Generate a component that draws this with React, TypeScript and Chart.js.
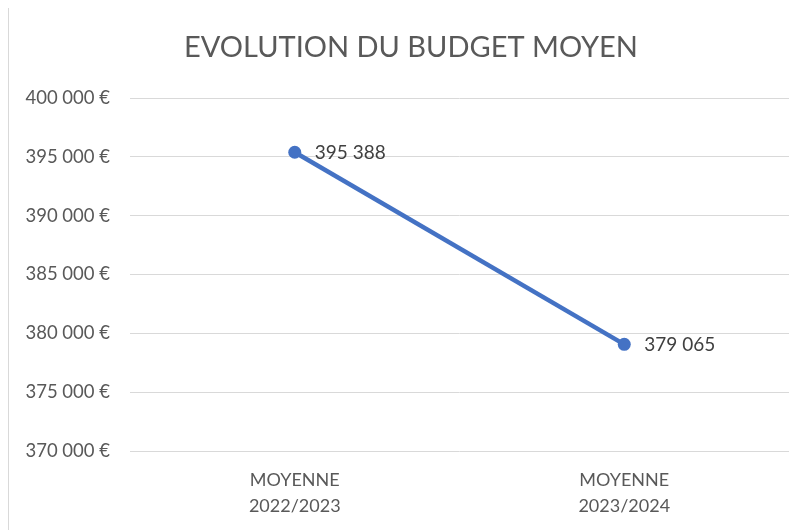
import React, { useEffect, useRef } from "react";
import { Chart, registerables } from "chart.js";

Chart.register(...registerables);

const TITLE = "EVOLUTION DU BUDGET MOYEN";
const categories: string[][] = [
  ["MOYENNE", "2022/2023"],
  ["MOYENNE", "2023/2024"],
];
const budgetValues: number[] = [395388, 379065];
const yMin = 370000;
const yMax = 400000;
const yStep = 5000;

const fmt = (v: number) => String(Math.round(v)).replace(/\B(?=(\d{3})+(?!\d))/g, " ");

const FONT = "Lato";

const titlePlugin = {
  id: "customTitle",
  afterDraw(chart: any) {
    const ctx = chart.ctx;
    ctx.save();
    ctx.font = `29px ${FONT}`;
    ctx.fillStyle = "#595959";
    ctx.textAlign = "center";
    ctx.textBaseline = "middle";
    ctx.fillText(TITLE, 402, 40);
    ctx.restore();
  },
};

const labelPlugin = {
  id: "pointLabels",
  afterDatasetsDraw(chart: any) {
    const ctx = chart.ctx;
    const meta = chart.getDatasetMeta(0);
    ctx.save();
    ctx.font = `19px ${FONT}`;
    ctx.fillStyle = "#404040";
    ctx.textAlign = "left";
    ctx.textBaseline = "middle";
    meta.data.forEach((pt: any, i: number) => {
      ctx.fillText(fmt(budgetValues[i]), pt.x + 20, pt.y + 1);
    });
    ctx.restore();
  },
};

export default function App() {
  const ref = useRef<HTMLCanvasElement | null>(null);
  useEffect(() => {
    if (!ref.current) return;
    const chart = new Chart(ref.current, {
      type: "line",
      data: {
        labels: categories as any,
        datasets: [
          {
            data: budgetValues,
            borderColor: "#4472C4",
            backgroundColor: "#4472C4",
            borderWidth: 4.5,
            pointRadius: 6.5,
            pointBackgroundColor: "#4472C4",
            pointBorderColor: "#4472C4",
            pointBorderWidth: 0,
          },
        ],
      },
      options: {
        animation: false,
        responsive: false,
        maintainAspectRatio: false,
        layout: { padding: { top: 90, right: 14, bottom: 0, left: 0 } },
        plugins: {
          legend: { display: false },
          title: { display: false },
          tooltip: { enabled: false },
        },
        scales: {
          x: {
            offset: true,
            grid: { display: false },
            border: { display: false },
            ticks: {
              color: "#595959",
              font: { family: FONT, size: 18, lineHeight: 1.45 },
              padding: 8,
              maxRotation: 0,
            },
            afterFit(scale: any) {
              scale.height = 79;
            },
          },
          y: {
            min: yMin,
            max: yMax,
            grid: { color: "#d9d9d9", lineWidth: 1, drawTicks: false },
            border: { display: false },
            ticks: {
              stepSize: yStep,
              color: "#595959",
              font: { family: FONT, size: 18.5 },
              padding: 20,
              callback: (v: any) => fmt(Number(v)) + " €",
            },
            afterFit(scale: any) {
              scale.width = 121;
            },
          },
        },
      },
      plugins: [titlePlugin, labelPlugin],
    });
    return () => chart.destroy();
  }, []);
  return (
    <div
      style={{
        width: 795,
        height: 523,
        marginTop: -1,
        borderTop: "1px solid #d9d9d9",
        borderLeft: "1px solid #d9d9d9",
        boxSizing: "border-box",
        background: "#fff",
        overflow: "hidden",
      }}
    >
      <canvas ref={ref} width={794} height={522} style={{ width: 794, height: 522, display: "block" }} />
    </div>
  );
}
